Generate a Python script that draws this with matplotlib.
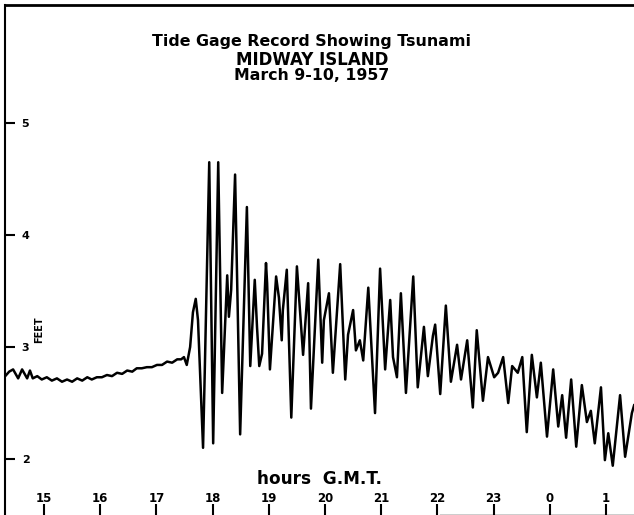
import matplotlib
matplotlib.use("Agg")
import matplotlib.pyplot as plt

# tide gage trace, Midway Island, 9-10 March 1957 (hours GMT, 24 = 0h on the 10th)
hours = [14.31, 14.38, 14.45, 14.54, 14.61, 14.70, 14.75, 14.80, 14.88, 14.96,
         15.05, 15.14, 15.23, 15.32, 15.41, 15.50, 15.59, 15.68, 15.77, 15.85,
         15.94, 16.03, 16.12, 16.21, 16.30, 16.39, 16.48, 16.57, 16.65, 16.74,
         16.83, 16.92, 17.01, 17.10, 17.19, 17.28, 17.37, 17.44, 17.49, 17.54,
         17.60, 17.65, 17.70, 17.74, 17.83, 17.86, 17.94, 18.01, 18.10, 18.17,
         18.26, 18.29, 18.33, 18.40, 18.49, 18.61, 18.67, 18.75, 18.79, 18.83,
         18.88, 18.95, 18.97, 19.02, 19.13, 19.18, 19.23, 19.25, 19.32, 19.40,
         19.50, 19.57, 19.61, 19.70, 19.75, 19.88, 19.95, 19.98, 20.07, 20.14,
         20.27, 20.36, 20.41, 20.50, 20.55, 20.62, 20.68, 20.77, 20.89, 20.98,
         21.07, 21.16, 21.21, 21.28, 21.35, 21.44, 21.57, 21.65, 21.76, 21.83,
         21.92, 21.96, 22.05, 22.15, 22.24, 22.35, 22.42, 22.53, 22.63, 22.70,
         22.81, 22.90, 23.01, 23.08, 23.17, 23.26, 23.33, 23.43, 23.51, 23.59,
         23.68, 23.77, 23.84, 23.95, 24.06, 24.15, 24.22, 24.29, 24.38, 24.47,
         24.57, 24.66, 24.73, 24.80, 24.91, 24.98, 25.04, 25.12, 25.25, 25.34,
         25.46, 25.50]
feet = [2.74, 2.78, 2.80, 2.72, 2.80, 2.72, 2.79, 2.72, 2.74, 2.71,
        2.73, 2.70, 2.72, 2.69, 2.71, 2.69, 2.72, 2.70, 2.73, 2.71,
        2.73, 2.73, 2.75, 2.74, 2.77, 2.76, 2.79, 2.78, 2.81, 2.81,
        2.82, 2.82, 2.84, 2.84, 2.87, 2.86, 2.89, 2.89, 2.91, 2.84,
        3.00, 3.31, 3.43, 3.24, 2.10, 2.77, 4.65, 2.14, 4.65, 2.59,
        3.64, 3.27, 3.51, 4.54, 2.22, 4.25, 2.83, 3.60, 3.18, 2.83,
        2.94, 3.75, 3.57, 2.80, 3.63, 3.44, 3.06, 3.33, 3.69, 2.37,
        3.72, 3.22, 2.93, 3.57, 2.45, 3.78, 2.86, 3.24, 3.48, 2.77,
        3.74, 2.71, 3.11, 3.33, 2.97, 3.06, 2.88, 3.53, 2.41, 3.70,
        2.80, 3.42, 2.91, 2.73, 3.48, 2.59, 3.63, 2.64, 3.18, 2.74,
        3.10, 3.20, 2.58, 3.37, 2.69, 3.02, 2.71, 3.06, 2.46, 3.15,
        2.52, 2.91, 2.73, 2.77, 2.91, 2.50, 2.83, 2.77, 2.91, 2.24,
        2.93, 2.55, 2.86, 2.20, 2.80, 2.29, 2.57, 2.19, 2.71, 2.11,
        2.66, 2.33, 2.43, 2.14, 2.64, 1.99, 2.23, 1.94, 2.57, 2.02,
        2.41, 2.48]

x_ticks = [15, 16, 17, 18, 19, 20, 21, 22, 23, 24, 25]
x_labels = ['15', '16', '17', '18', '19', '20', '21', '22', '23', '0', '1']
y_ticks = [2, 3, 4, 5]

plt.rcParams['font.family'] = ['DejaVu Sans']
plt.rcParams['font.weight'] = 'bold'

fig = plt.figure(figsize=(6.34, 5.15), dpi=100)
ax = fig.add_axes([5 / 634, 0, 629 / 634, 510 / 515])

ax.plot(hours, feet, color='black', lw=1.8, solid_joinstyle='round')

ax.set_xlim(14.306, 25.498)
ax.set_ylim(1.5, 6.054)

ax.set_xticks(x_ticks)
ax.set_xticklabels(x_labels)
ax.set_yticks(y_ticks)

ax.tick_params(axis='y', direction='in', length=7, width=1.5, pad=-12,
               labelsize=8)
for lab in ax.get_yticklabels():
    lab.set_horizontalalignment('left')
ax.tick_params(axis='x', direction='in', length=8, width=1.5, pad=-7,
               labelsize=8.5)
for lab in ax.get_xticklabels():
    lab.set_verticalalignment('bottom')

ax.spines['right'].set_visible(False)
ax.spines['left'].set_linewidth(1.5)
ax.spines['top'].set_linewidth(2.0)
ax.spines['bottom'].set_linewidth(1.0)
ax.spines['bottom'].set_bounds(22.05, 25.5)

ax.text(0.488, 0.929, 'Tide Gage Record Showing Tsunami', transform=ax.transAxes,
        ha='center', va='center', fontsize=11.4)
ax.text(0.488, 0.892, 'MIDWAY ISLAND', transform=ax.transAxes,
        ha='center', va='center', fontsize=12)
ax.text(0.488, 0.861, 'March 9-10, 1957', transform=ax.transAxes,
        ha='center', va='center', fontsize=11.3)
ax.text(0.5, 0.07, 'hours  G.M.T.', transform=ax.transAxes,
        ha='center', va='center', fontsize=12.2)
ax.text(0.054, 0.363, 'FEET', transform=ax.transAxes, rotation=90,
        ha='center', va='center', fontsize=7)

fig.savefig('out.png', dpi=100)
